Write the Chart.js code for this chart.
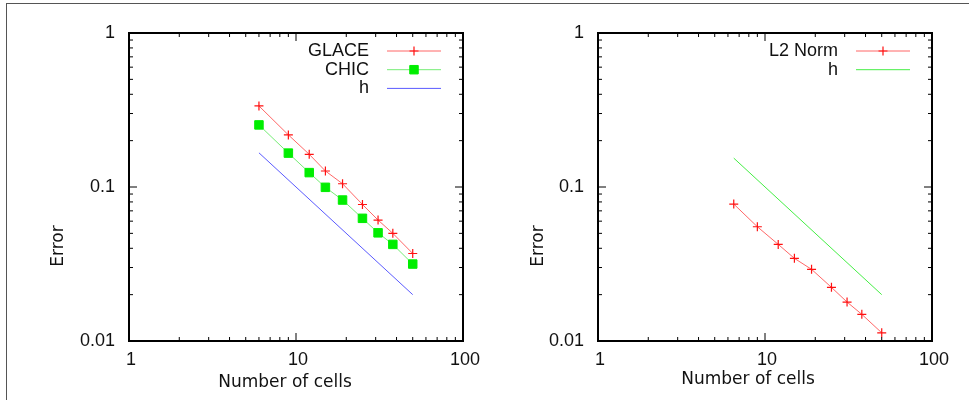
<!DOCTYPE html>
<html>
<head>
<meta charset="utf-8">
<script src="https://cdn.jsdelivr.net/npm/chart.js@4.4.1/dist/chart.umd.min.js"></script>
<style>
  html, body { margin: 0; padding: 0; background: #fff; }
  #wrap { position: relative; width: 969px; height: 400px; overflow: hidden; }
  canvas { position: absolute; top: 0; }
  #leftChart { left: 0; }
  #rightChart { left: 484px; }
  #frame { position: absolute; left: 6px; top: 3px; right: -5px; bottom: -5px;
           border-top: 1.5px solid #555; border-left: 1.5px solid #555; pointer-events: none; }
</style>
</head>
<body>
<div id="wrap">
  <canvas id="leftChart" width="484" height="400"></canvas>
  <canvas id="rightChart" width="485" height="400"></canvas>
  <div id="frame"></div>
</div>
<script>
// Left panel: GLACE vs CHIC convergence
const glaceCells = [6, 9, 12, 15, 19, 25, 31, 38, 50];
const glaceError = [0.336, 0.218, 0.163, 0.127, 0.105, 0.077, 0.061, 0.050, 0.037];
const chicCells = [6, 9, 12, 15, 19, 25, 31, 38, 50];
const chicError = [0.253, 0.166, 0.124, 0.0995, 0.0823, 0.0626, 0.0504, 0.0424, 0.0316];
const hLeftCells = [6, 50];
const hLeftError = [0.1667, 0.02];

// Right panel: L2 norm
const l2Cells = [6.5, 9, 12, 15, 19, 25, 31, 38, 50];
const l2Error = [0.0775, 0.0552, 0.0424, 0.0344, 0.0292, 0.0223, 0.0179, 0.0149, 0.0113];
const hRightCells = [6.5, 50];
const hRightError = [0.154, 0.02];

// Axis ticks
const xMajor = [1, 10, 100];
const xMajorLabels = ['1', '10', '100'];
const xMinor = [2, 3, 4, 5, 6, 7, 8, 9, 20, 30, 40, 50, 60, 70, 80, 90];
const yMajor = [0.01, 0.1, 1];
const yMajorLabels = ['0.01', '0.1', '1'];
const yMinor = [0.02, 0.03, 0.04, 0.05, 0.06, 0.07, 0.08, 0.09, 0.2, 0.3, 0.4, 0.5, 0.6, 0.7, 0.8, 0.9];

const toPoints = (xs, ys) => xs.map((x, i) => ({ x: x, y: ys[i] }));

// gnuplot-like frame, inward ticks, labels and key
const gnuplotFrame = {
    id: 'gnuplotFrame',
    afterDraw(chart, args, opts) {
        const { ctx, chartArea: a, scales } = chart;
        const x = scales.x, y = scales.y;
        ctx.save();
        ctx.strokeStyle = '#000';
        ctx.lineWidth = 1;
        const seg = (x1, y1, x2, y2) => { ctx.beginPath(); ctx.moveTo(x1, y1); ctx.lineTo(x2, y2); ctx.stroke(); };

        xMajor.forEach(v => { const p = x.getPixelForValue(v); seg(p, a.bottom, p, a.bottom - 8); seg(p, a.top, p, a.top + 8); });
        xMinor.forEach(v => { const p = x.getPixelForValue(v); seg(p, a.bottom, p, a.bottom - 4); seg(p, a.top, p, a.top + 4); });
        yMajor.forEach(v => { const p = y.getPixelForValue(v); seg(a.left, p, a.left + 8, p); seg(a.right, p, a.right - 8, p); });
        yMinor.forEach(v => { const p = y.getPixelForValue(v); seg(a.left, p, a.left + 4, p); seg(a.right, p, a.right - 4, p); });

        ctx.lineWidth = 2;
        ctx.strokeRect(a.left, a.top, a.right - a.left, a.bottom - a.top);

        // tick labels
        ctx.fillStyle = '#111';
        ctx.font = '18px "Liberation Sans", Arial, sans-serif';
        ctx.textAlign = 'right';
        ctx.textBaseline = 'middle';
        yMajor.forEach((v, i) => ctx.fillText(yMajorLabels[i], a.left - 14, y.getPixelForValue(v)));
        ctx.textAlign = 'center';
        xMajor.forEach((v, i) => ctx.fillText(xMajorLabels[i], x.getPixelForValue(v) + 2, a.bottom + 19));

        // axis titles
        ctx.font = '17px "DejaVu Sans", sans-serif';
        ctx.fillText('Number of cells', opts.xTitleX, opts.xTitleY);
        ctx.save();
        ctx.translate(opts.yTitleX, 246);
        ctx.rotate(-Math.PI / 2);
        ctx.fillText('Error', 0, 0);
        ctx.restore();

        // key
        ctx.font = '18px "Liberation Sans", Arial, sans-serif';
        chart.data.datasets.forEach((ds, i) => {
            const ry = a.top + 18 + i * 18.7;
            ctx.fillStyle = '#111';
            ctx.textAlign = 'right';
            ctx.fillText(ds.label, a.right - 94, ry);
            ctx.strokeStyle = ds.borderColor;
            ctx.lineWidth = ds.borderWidth;
            seg(a.right - 76, ry, a.right - 22, ry);
            if (ds.pointRadius > 0) {
                ctx.fillStyle = ds.pointBackgroundColor || ds.borderColor;
                ctx.strokeStyle = ds.pointBorderColor || ds.borderColor;
                ctx.lineWidth = ds.pointBorderWidth || 1;
                Chart.helpers.drawPoint(ctx, {
                    pointStyle: ds.pointStyle, radius: ds.pointRadius, rotation: 0,
                    borderWidth: ds.pointBorderWidth || 1
                }, a.right - 49, ry);
            }
        });
        ctx.restore();
    }
};

function logScales() {
    return {
        x: { type: 'logarithmic', min: 1, max: 100, display: false },
        y: { type: 'logarithmic', min: 0.01, max: 1, display: false }
    };
}

const redCross = {
    borderColor: 'rgba(255,0,0,0.6)', borderWidth: 1,
    pointStyle: 'cross', pointRadius: 4.5,
    pointBorderColor: '#ff1010', pointBorderWidth: 1.2
};

new Chart(document.getElementById('leftChart').getContext('2d'), {
    type: 'line',
    data: {
        datasets: [
            Object.assign({ label: 'GLACE', data: toPoints(glaceCells, glaceError) }, redCross),
            {
                label: 'CHIC', data: toPoints(chicCells, chicError),
                borderColor: 'rgba(0,220,0,0.55)', borderWidth: 1,
                pointStyle: 'rect', pointRadius: 6,
                pointBackgroundColor: '#00ee00', pointBorderColor: '#00ee00', pointBorderWidth: 1
            },
            { label: 'h', data: toPoints(hLeftCells, hLeftError), borderColor: '#5a5aff', borderWidth: 1, pointRadius: 0 }
        ]
    },
    options: {
        responsive: false,
        animation: false,
        layout: { padding: { left: 129, right: 21, top: 33, bottom: 59 } },
        elements: { line: { tension: 0 } },
        scales: logScales(),
        plugins: {
            legend: { display: false },
            tooltip: { enabled: false },
            gnuplotFrame: { xTitleX: 285, xTitleY: 383, yTitleX: 59 }
        }
    },
    plugins: [gnuplotFrame]
});

new Chart(document.getElementById('rightChart').getContext('2d'), {
    type: 'line',
    data: {
        datasets: [
            Object.assign({ label: 'L2 Norm', data: toPoints(l2Cells, l2Error) }, redCross),
            { label: 'h', data: toPoints(hRightCells, hRightError), borderColor: '#44ee44', borderWidth: 1, pointRadius: 0 }
        ]
    },
    options: {
        responsive: false,
        animation: false,
        layout: { padding: { left: 114, right: 37, top: 33, bottom: 59 } },
        elements: { line: { tension: 0 } },
        scales: logScales(),
        plugins: {
            legend: { display: false },
            tooltip: { enabled: false },
            gnuplotFrame: { xTitleX: 264, xTitleY: 380, yTitleX: 55 }
        }
    },
    plugins: [gnuplotFrame]
});
</script>
</body>
</html>
